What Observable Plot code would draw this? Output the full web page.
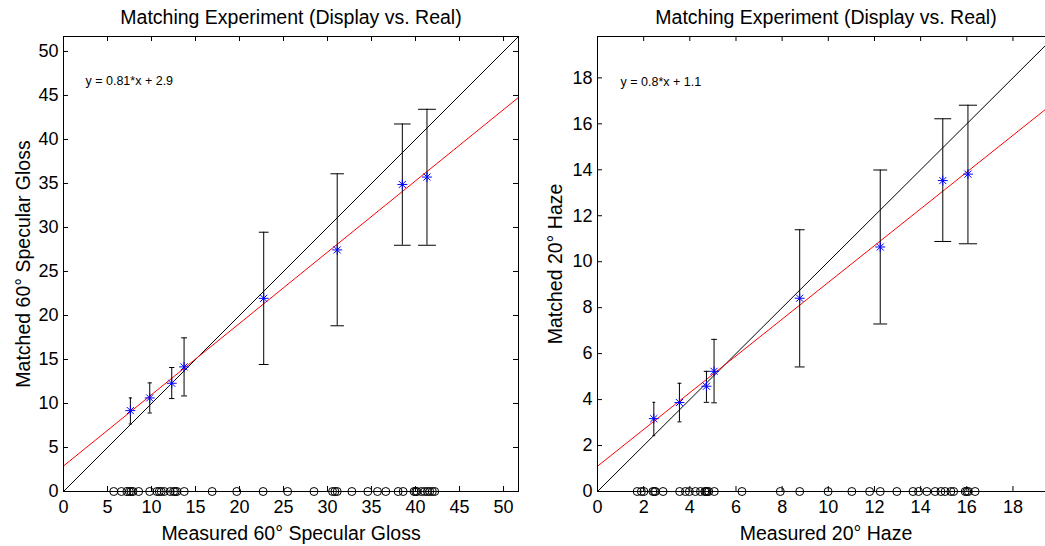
<!DOCTYPE html>
<html>
<head>
<meta charset="utf-8">
<script src="https://cdn.jsdelivr.net/npm/d3@7"></script>
<script src="https://cdn.jsdelivr.net/npm/@observablehq/plot@0.6"></script>
<style>
  html, body { margin: 0; padding: 0; background: #fff; overflow: hidden; }
  #wrap { display: flex; width: 1060px; height: 546px; }
  #wrap svg { display: block; flex: none; }
</style>
</head>
<body>
<div id="wrap"></div>
<script>
// ---------- Data: left panel (60° specular gloss) ----------
const glossMeasured = [5.71, 6.58, 7.22, 7.48, 7.67, 7.90, 8.54, 9.79, 10.62, 10.88, 11.11, 11.45,
  12.13, 12.51, 12.70, 12.89, 13.72, 16.89, 19.69, 22.68, 25.47, 28.46, 30.57, 30.84, 31.10,
  32.77, 34.58, 35.68, 36.62, 38.02, 38.59, 39.83, 40.02, 40.17, 40.67, 41.04, 41.35, 41.61,
  41.91, 42.18];
const glossMeanX = [7.6, 9.8, 12.3, 13.7, 22.75, 31.1, 38.5, 41.3];
const glossMeanY = [9.19, 10.63, 12.30, 14.16, 21.95, 27.45, 34.89, 35.73];
const glossLow   = [7.67, 8.92, 10.56, 10.86, 14.43, 18.83, 27.98, 27.98];
const glossHigh  = [10.63, 12.34, 14.09, 17.46, 29.46, 36.10, 41.76, 43.43];
const glossFit = {slope: 0.81, intercept: 2.9};
const glossTicks = [0, 5, 10, 15, 20, 25, 30, 35, 40, 45, 50];

// ---------- Data: right panel (20° haze) ----------
const hazeMeasured = [1.72, 1.90, 2.01, 2.40, 2.47, 2.51, 2.84, 3.56, 3.81, 3.98, 4.24, 4.46,
  4.65, 4.70, 4.75, 4.82, 5.06, 6.26, 7.92, 8.76, 9.99, 11.02, 11.79, 12.25, 12.97, 13.67,
  13.91, 14.27, 14.63, 14.88, 15.06, 15.31, 15.43, 15.93, 16.00, 16.07, 16.36];
const hazeMeanX = [2.44, 3.55, 4.72, 5.05, 8.76, 12.25, 14.96, 16.05];
const hazeMeanY = [3.17, 3.87, 4.58, 5.23, 8.41, 10.64, 13.53, 13.81];
const hazeLow   = [2.43, 3.03, 3.88, 3.86, 5.42, 7.29, 10.88, 10.78];
const hazeHigh  = [3.88, 4.71, 5.23, 6.62, 11.39, 13.99, 16.22, 16.81];
const hazeFit = {slope: 0.8, intercept: 1.1};
const hazeTicks = [0, 2, 4, 6, 8, 10, 12, 14, 16, 18];

const title = "Matching Experiment (Display vs. Real)";

function panel(cfg) {
  const W = cfg.width, H = 546, mt = 36, mb = 55;
  const fw = W - cfg.ml - cfg.mr, fh = H - mt - mb;
  const L = cfg.limit;
  const means = cfg.mx.map((x, i) => ({x, y: cfg.my[i], lo: cfg.lo[i], hi: cfg.hi[i], cap: 0.0245 * x}));
  const ends = [0, L];
  const fitLine = ends.map(x => ({x, y: cfg.fit.slope * x + cfg.fit.intercept}));
  const idLine = ends.map(x => ({x, y: x}));
  const eq = `y = ${cfg.fit.slope}*x + ${cfg.fit.intercept}`;
  return Plot.plot({
    width: W, height: H,
    marginLeft: cfg.ml, marginRight: cfg.mr, marginTop: mt, marginBottom: mb,
    style: {fontFamily: "'Liberation Sans', Helvetica, Arial, sans-serif", fontSize: "18px", color: "#000", background: "#fff", overflow: "visible"},
    x: {domain: [0, L]},
    y: {domain: [0, L]},
    marks: [
      Plot.axisX({ticks: cfg.ticks, tickSize: 0, tickPadding: 9, tickFormat: d => String(d), label: null}),
      Plot.axisY({ticks: cfg.ticks, tickSize: 0, tickPadding: 5, tickFormat: d => String(d), label: null}),
      // inward ticks on all four sides
      Plot.ruleX(cfg.ticks, {stroke: "#000", insetTop: fh - 5}),
      Plot.ruleX(cfg.ticks, {stroke: "#000", insetBottom: fh - 5}),
      Plot.ruleY(cfg.ticks, {stroke: "#000", insetRight: fw - 5}),
      Plot.ruleY(cfg.ticks, {stroke: "#000", insetLeft: fw - 5}),
      // identity and fit lines
      Plot.line(idLine, {x: "x", y: "y", stroke: "#000", strokeWidth: 1, clip: true}),
      Plot.line(fitLine, {x: "x", y: "y", stroke: "#ff0000", strokeWidth: 1, clip: true}),
      // error bars
      Plot.ruleX(means, {x: "x", y1: "lo", y2: "hi", stroke: "#000", strokeWidth: 1}),
      Plot.link(means, {x1: d => d.x - d.cap, x2: d => d.x + d.cap, y1: "hi", y2: "hi", stroke: "#000", strokeWidth: 1}),
      Plot.link(means, {x1: d => d.x - d.cap, x2: d => d.x + d.cap, y1: "lo", y2: "lo", stroke: "#000", strokeWidth: 1}),
      // mean markers (asterisk: plus + times)
      Plot.dot(means, {x: "x", y: "y", symbol: "plus", r: 3.3, stroke: "#0000ff", strokeWidth: 1}),
      Plot.dot(means, {x: "x", y: "y", symbol: "times", r: 3.3, stroke: "#0000ff", strokeWidth: 1}),
      // measured values along the x axis
      Plot.dot(cfg.measured, {x: d => d, y: () => 0, r: 4, stroke: "#000", strokeWidth: 1, fill: "none"}),
      // equation text
      Plot.text([eq], {x: () => cfg.eqPos[0], y: () => cfg.eqPos[1], text: d => d, textAnchor: "start",
        lineAnchor: "middle", fontSize: 12.5, fill: "#000"}),
      // title
      Plot.text([title], {frameAnchor: "top", text: d => d, dy: -19, textAnchor: "middle", lineAnchor: "middle", fontSize: 19.5, fill: "#000"}),
      // axis labels
      Plot.text([cfg.xlabel], {frameAnchor: "bottom", text: d => d, dy: 42, textAnchor: "middle", lineAnchor: "middle", fontSize: 19.5, fill: "#000"}),
      Plot.text([cfg.ylabel], {frameAnchor: "left", text: d => d, dx: cfg.ylabDx, rotate: -90, textAnchor: "middle", lineAnchor: "middle", fontSize: 19.5, fill: "#000"}),
      Plot.frame({stroke: "#000", strokeWidth: 1})
    ]
  });
}

const wrap = document.getElementById("wrap");
wrap.append(panel({
  width: 530, ml: 63, mr: 12, limit: 51.7,
  ticks: glossTicks, measured: glossMeasured,
  mx: glossMeanX, my: glossMeanY, lo: glossLow, hi: glossHigh, fit: glossFit,
  eqPos: [2.5, 46.6], ylabDx: -40,
  xlabel: "Measured 60° Specular Gloss", ylabel: "Matched 60° Specular Gloss"
}));
wrap.append(panel({
  width: 530, ml: 67, mr: 6, limit: 19.8,
  ticks: hazeTicks, measured: hazeMeasured,
  mx: hazeMeanX, my: hazeMeanY, lo: hazeLow, hi: hazeHigh, fit: hazeFit,
  eqPos: [1.0, 17.8], ylabDx: -42,
  xlabel: "Measured 20° Haze", ylabel: "Matched 20° Haze"
}));
</script>
</body>
</html>
